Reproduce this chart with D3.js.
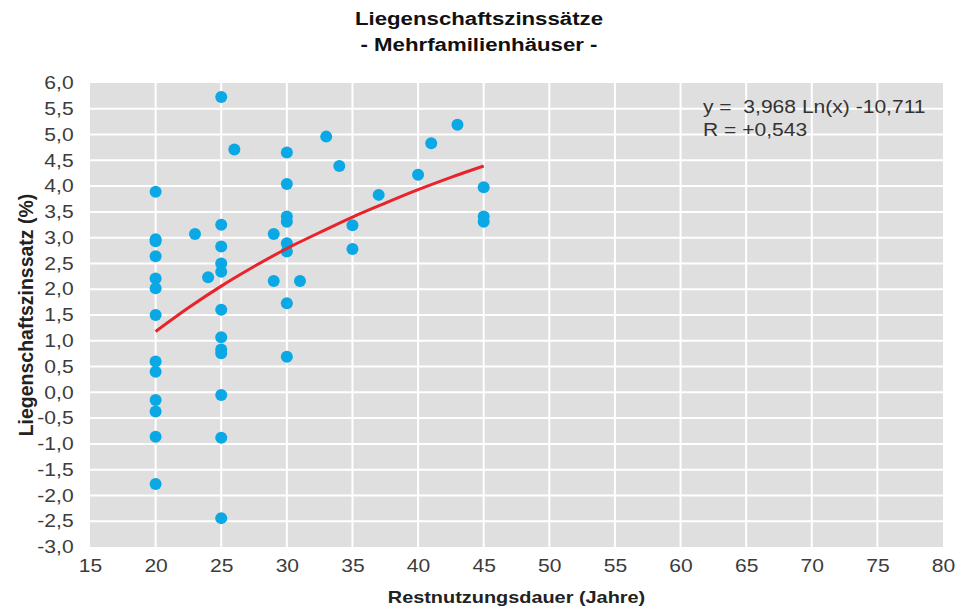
<!DOCTYPE html>
<html>
<head>
<meta charset="utf-8">
<script src="https://cdn.jsdelivr.net/npm/d3@7"></script>
<style>
  body { margin: 0; background: #fff; }
  text { font-family: "Liberation Sans", Arial, sans-serif; }
</style>
</head>
<body>
<div id="chart"></div>
<script>
// Restnutzungsdauer (Jahre) / Liegenschaftszinssatz (%)
var restnutzung = [20, 20, 20, 20, 20, 20, 20, 20, 20, 20, 20, 20, 20,
    23, 24, 25, 25, 25, 25, 25, 25, 25, 25, 25, 25, 25, 25, 26,
    29, 29, 30, 30, 30, 30, 30, 30, 30, 30, 31, 33, 34, 35, 35, 37, 40, 41, 43, 45, 45, 45];
var zinssatz = [3.89, 2.97, 2.93, 2.64, 2.21, 2.02, 1.50, 0.60, 0.40, -0.15, -0.37, -0.86, -1.78,
    3.07, 2.23, 5.73, 3.25, 2.83, 2.50, 2.34, 1.60, 1.07, 0.83, 0.76, -0.05, -0.88, -2.44, 4.71,
    3.07, 2.16, 4.65, 4.04, 3.41, 3.31, 2.89, 2.73, 1.73, 0.69, 2.16, 4.96, 4.39, 3.24, 2.78, 3.83, 4.22, 4.83, 5.19, 3.98, 3.41, 3.31];

// Trendlinie
var trendX = [20, 22.5, 25, 27.5, 30, 32.5, 35, 37.5, 40, 42.5, 45];
var trendY = [1.18, 1.64, 2.06, 2.44, 2.79, 3.10, 3.40, 3.67, 3.93, 4.17, 4.39];

var xTicks = [15, 20, 25, 30, 35, 40, 45, 50, 55, 60, 65, 70, 75, 80];
var yTicks = [-3, -2.5, -2, -1.5, -1, -0.5, 0, 0.5, 1, 1.5, 2, 2.5, 3, 3.5, 4, 4.5, 5, 5.5, 6];

var margin = {top: 83, right: 15, bottom: 65, left: 90};
var width = 958 - margin.left - margin.right;
var height = 612 - margin.top - margin.bottom;
var stretch = 1.17; // Schrift im Bild breiter gezogen

var svg = d3.select("#chart").append("svg")
    .attr("width", 958)
    .attr("height", 612);

var g = svg.append("g")
    .attr("transform", "translate(" + margin.left + "," + margin.top + ")");

var x = d3.scaleLinear().domain([15, 80]).range([0, width]);
var y = d3.scaleLinear().domain([-3, 6]).range([height, 0]);

var fmt = function(d) { return d3.format(".1f")(d).replace(".", ",").replace("−", "-"); };

g.append("rect")
    .attr("width", width)
    .attr("height", height)
    .attr("fill", "#dfdfdf");

// grid
g.selectAll(".hgrid")
    .data(yTicks.slice(1, -1))
    .enter().append("line")
    .attr("x1", 0).attr("x2", width)
    .attr("y1", function(d) { return y(d); })
    .attr("y2", function(d) { return y(d); })
    .attr("stroke", "#fff")
    .attr("stroke-width", 2);

g.selectAll(".vgrid")
    .data(xTicks.slice(1, -1))
    .enter().append("line")
    .attr("y1", 0).attr("y2", height)
    .attr("x1", function(d) { return x(d); })
    .attr("x2", function(d) { return x(d); })
    .attr("stroke", "#fff")
    .attr("stroke-width", 2);

// axes
var xAxis = g.append("g")
    .attr("transform", "translate(0," + height + ")")
    .call(d3.axisBottom(x).tickValues(xTicks).tickSize(0).tickPadding(12));
xAxis.select(".domain").remove();
xAxis.selectAll("text")
    .attr("transform", "scale(" + stretch + ",1)")
    .style("font-size", "18px")
    .attr("fill", "#3c3c3c");

var yAxis = g.append("g")
    .call(d3.axisLeft(y).tickValues(yTicks).tickFormat(fmt).tickSize(0).tickPadding(14));
yAxis.select(".domain").remove();
yAxis.selectAll("text")
    .attr("transform", "scale(" + stretch + ",1)")
    .style("font-size", "18px")
    .attr("fill", "#3c3c3c");

// points
var pts = restnutzung.map(function(d, i) { return [d, zinssatz[i]]; });
g.selectAll(".dot")
    .data(pts)
    .enter().append("circle")
    .attr("class", "dot")
    .attr("cx", function(d) { return x(d[0]); })
    .attr("cy", function(d) { return y(d[1]); })
    .attr("r", 6)
    .attr("fill", "#0aa8e4");

// trend
var trend = trendX.map(function(d, i) { return [d, trendY[i]]; });
g.append("path")
    .datum(trend)
    .attr("fill", "none")
    .attr("stroke", "#e8232b")
    .attr("stroke-width", 3)
    .attr("d", d3.line()
        .x(function(d) { return x(d[0]); })
        .y(function(d) { return y(d[1]); })
        .curve(d3.curveMonotoneX));

// equation
g.append("text")
    .attr("transform", "translate(613,30) scale(" + stretch + ",1)")
    .style("font-size", "18px")
    .attr("fill", "#333")
    .attr("xml:space", "preserve")
    .text("y =  3,968 Ln(x) -10,711");
g.append("text")
    .attr("transform", "translate(613,53) scale(" + stretch + ",1)")
    .style("font-size", "18px")
    .attr("fill", "#333")
    .text("R = +0,543");

// titles
svg.append("text")
    .attr("transform", "translate(479,25) scale(" + stretch + ",1)")
    .attr("text-anchor", "middle")
    .style("font-size", "19px")
    .style("font-weight", "bold")
    .attr("fill", "#111")
    .text("Liegenschaftszinssätze");
svg.append("text")
    .attr("transform", "translate(479,51) scale(" + stretch + ",1)")
    .attr("text-anchor", "middle")
    .style("font-size", "19px")
    .style("font-weight", "bold")
    .attr("fill", "#111")
    .text("- Mehrfamilienhäuser -");

svg.append("text")
    .attr("transform", "translate(" + (margin.left + x(47.5)) + ",603) scale(" + stretch + ",1)")
    .attr("text-anchor", "middle")
    .style("font-size", "17px")
    .style("font-weight", "bold")
    .attr("fill", "#222")
    .text("Restnutzungsdauer (Jahre)");

svg.append("text")
    .attr("transform", "translate(33,315) rotate(-90)")
    .attr("text-anchor", "middle")
    .style("font-size", "19.5px")
    .style("font-weight", "bold")
    .attr("fill", "#222")
    .text("Liegenschaftszinssatz (%)");
</script>
</body>
</html>
